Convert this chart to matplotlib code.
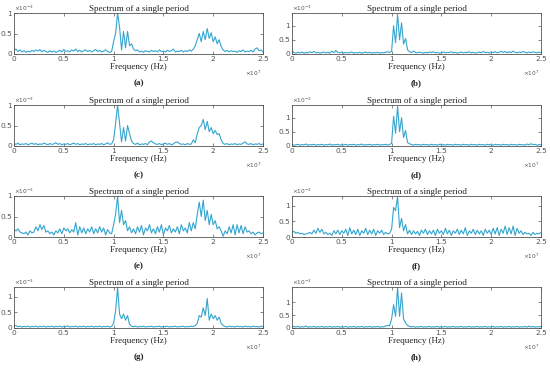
import numpy as np
import matplotlib
matplotlib.use("Agg")
import matplotlib.pyplot as plt

# frequency grid in units of 1e7 Hz, amplitudes in units of 1e-3
freq = np.round(np.arange(126) * 0.02, 2)

amp_a = [0.08,0.12,0.06,0.10,0.05,0.08,0.04,0.07,0.05,0.09, 0.06,0.10,0.07,0.11,0.05,0.09,0.06,0.04,0.08,0.05,
         0.07,0.04,0.06,0.09,0.05,0.11,0.06,0.08,0.05,0.10, 0.07,0.12,0.06,0.09,0.05,0.08,0.10,0.06,0.09,0.05,
         0.08,0.11,0.06,0.09,0.05,0.07,0.10,0.06,0.04,0.06,
         0.30,0.50,1.00,0.65,0.10,0.55,0.15,0.55,0.20,0.25,0.12,
         0.08,0.10,0.05,0.07,0.04,0.08,0.06,0.05,0.09,0.06, 0.08,0.05,0.10,0.06,0.07,0.05,0.09,0.06,0.08,0.12,
         0.05,0.07,0.06,0.09,0.05,0.08,0.06,0.10,0.07,
         0.12,0.20,0.35,0.50,0.30,0.55,0.35,0.62,0.38,0.52,0.30,0.42,0.25,0.35,0.18,0.10,
         0.06,0.09,0.05,0.08,0.06,0.07,0.04,0.08,0.06,0.10,0.05,0.07,0.06,0.09,0.05,0.12,0.15,0.08,0.10,0.05]

amp_b = [0.12,0.05,0.03,0.06,0.04,0.07,0.03,0.05,0.04,0.08, 0.05,0.09,0.04,0.06,0.03,0.05,0.07,0.04,0.06,0.03,
         0.10,0.05,0.12,0.06,0.04,0.07,0.03,0.06,0.04,0.05, 0.07,0.03,0.05,0.04,0.06,0.03,0.05,0.07,0.04,0.06,
         0.03,0.05,0.04,0.06,0.03,0.05,0.04,0.06,0.08,0.05,
         0.10,1.00,0.40,1.40,0.50,1.10,0.35,0.55,0.15,
         0.08,0.05,0.10,0.06,0.04,0.07,0.05,0.03,0.06,0.04, 0.07,0.05,0.08,0.04,0.06,0.03,0.05,0.07,0.04,0.06,
         0.05,0.08,0.04,0.06,0.03,0.05,0.07,0.04,0.06,0.05, 0.08,0.04,0.06,0.03,0.05,0.07,0.04,0.09,0.05,0.06,
         0.04,0.07,0.05,0.08,0.04,0.06,0.10,0.05,0.09,0.04, 0.08,0.05,0.10,0.06,0.04,0.07,0.05,0.09,0.06,0.04,
         0.07,0.05,0.08,0.06,0.04,0.07,0.05]

amp_c = [0.06,0.04,0.07,0.03,0.05,0.04,0.06,0.03,0.05,0.07, 0.04,0.06,0.03,0.05,0.04,0.07,0.05,0.03,0.06,0.04,
         0.05,0.08,0.04,0.06,0.03,0.05,0.04,0.06,0.03,0.05, 0.07,0.04,0.06,0.03,0.05,0.04,0.06,0.03,0.05,0.04,
         0.06,0.03,0.05,0.04,0.06,0.03,0.05,0.08,0.04,0.05,
         0.15,0.55,1.00,0.55,0.10,0.45,0.12,0.50,0.30,0.12,
         0.06,0.04,0.07,0.03,0.05,0.04,0.06,0.03,0.10,0.12, 0.08,0.05,0.04,0.06,0.03,0.05,0.07,0.04,0.06,0.03,
         0.05,0.09,0.10,0.06,0.04,0.05,0.03,0.06,0.04,0.05,
         0.15,0.08,0.30,0.45,0.50,0.65,0.40,0.60,0.35,0.45,0.30,0.38,0.28,0.30,0.15,0.06,
         0.04,0.06,0.03,0.05,0.04,0.06,0.03,0.05,0.04,0.07,0.10,0.05,0.04,0.06,0.03,0.05,0.04,0.06,0.03,0.05]

amp_d = [0.05,0.03,0.04,0.06,0.03,0.05,0.04,0.07,0.03,0.05, 0.04,0.06,0.03,0.05,0.04,0.06,0.03,0.05,0.04,0.07,
         0.03,0.05,0.04,0.06,0.03,0.05,0.04,0.06,0.03,0.05, 0.04,0.06,0.03,0.05,0.04,0.07,0.03,0.05,0.04,0.06,
         0.03,0.05,0.04,0.06,0.03,0.05,0.04,0.06,0.03,0.05,
         0.10,1.05,0.45,1.40,0.50,1.00,0.30,0.55,0.12,0.08,
         0.05,0.03,0.06,0.04,0.05,0.03,0.06,0.04,0.05,0.03, 0.06,0.04,0.05,0.03,0.06,0.04,0.05,0.03,0.06,0.04,
         0.05,0.03,0.06,0.04,0.05,0.03,0.06,0.04,0.05,0.03, 0.06,0.04,0.05,0.03,0.06,0.04,0.05,0.03,0.06,0.04,
         0.05,0.03,0.06,0.04,0.05,0.03,0.06,0.04,0.05,0.03, 0.06,0.04,0.05,0.03,0.06,0.04,0.05,0.03,0.07,0.04,
         0.08,0.05,0.06,0.03,0.05,0.04]

amp_e = [0.18,0.15,0.20,0.12,0.10,0.08,0.12,0.05,0.15,0.10, 0.12,0.25,0.15,0.30,0.18,0.28,0.12,0.15,0.08,0.12,
         0.05,0.15,0.10,0.20,0.08,0.22,0.15,0.20,0.10,0.18, 0.12,0.35,0.05,0.25,0.10,0.22,0.08,0.20,0.12,0.25,
         0.08,0.20,0.10,0.25,0.12,0.22,0.05,0.18,0.10,0.08,
         0.30,0.55,1.00,0.35,0.65,0.30,0.40,0.15,0.25,0.10,
         0.20,0.08,0.25,0.12,0.28,0.05,0.22,0.15,0.30,0.10, 0.20,0.08,0.25,0.12,0.30,0.05,0.22,0.15,0.28,0.10,
         0.20,0.12,0.25,0.08,0.30,0.15,0.22,0.10,0.35,0.15,
         0.35,0.20,0.55,0.85,0.50,0.90,0.40,0.65,0.30,0.55,0.30,0.40,0.20,0.25,0.15,0.02,
         0.15,0.08,0.25,0.10,0.30,0.05,0.30,0.10,0.28,0.08,0.25,0.12,0.15,0.08,0.12,0.05,0.10,0.12,0.08,0.10]

amp_f = [0.15,0.18,0.12,0.15,0.10,0.12,0.08,0.10,0.12,0.15, 0.10,0.22,0.12,0.28,0.15,0.25,0.10,0.15,0.08,0.12,
         0.05,0.20,0.10,0.22,0.08,0.20,0.12,0.25,0.05,0.30, 0.10,0.22,0.08,0.25,0.05,0.20,0.12,0.28,0.08,0.22,
         0.10,0.25,0.05,0.20,0.12,0.22,0.08,0.15,0.10,0.12,
         0.25,0.95,0.85,1.30,0.30,0.60,0.20,0.40,0.10,0.22,
         0.08,0.20,0.10,0.18,0.05,0.22,0.12,0.25,0.08,0.20, 0.10,0.22,0.05,0.25,0.12,0.20,0.08,0.28,0.10,0.22,
         0.05,0.20,0.12,0.25,0.08,0.22,0.10,0.30,0.05,0.20, 0.12,0.25,0.08,0.22,0.10,0.20,0.05,0.25,0.12,0.22,
         0.08,0.28,0.10,0.30,0.05,0.25,0.12,0.35,0.08,0.30, 0.10,0.35,0.05,0.28,0.12,0.20,0.08,0.15,0.10,0.12,
         0.05,0.15,0.08,0.12,0.10,0.15]

amp_g = [0.06,0.08,0.04,0.06,0.03,0.05,0.04,0.06,0.03,0.05, 0.04,0.06,0.03,0.05,0.04,0.06,0.03,0.05,0.04,0.06,
         0.03,0.05,0.04,0.06,0.03,0.05,0.04,0.07,0.03,0.05, 0.04,0.06,0.03,0.05,0.04,0.06,0.03,0.05,0.04,0.06,
         0.03,0.05,0.04,0.06,0.03,0.05,0.04,0.06,0.03,0.05,
         0.15,0.55,1.30,0.45,0.30,0.45,0.25,0.40,0.12,0.06,
         0.04,0.06,0.03,0.05,0.04,0.06,0.03,0.05,0.04,0.06, 0.03,0.05,0.04,0.06,0.03,0.05,0.04,0.06,0.03,0.05,
         0.04,0.06,0.03,0.05,0.04,0.06,0.03,0.05,0.04,0.06, 0.05,0.08,
         0.15,0.40,0.35,0.65,0.40,0.95,0.25,0.45,0.30,0.40,0.25,0.35,0.15,0.08,
         0.05,0.03,0.06,0.04,0.05,0.03,0.06,0.04,0.05,0.03,0.06,0.04,0.05,0.03,0.06,0.04,0.05,0.03,0.06,0.04]

amp_h = [0.08,0.05,0.04,0.06,0.03,0.05,0.04,0.08,0.03,0.05, 0.04,0.06,0.03,0.05,0.04,0.06,0.03,0.05,0.04,0.06,
         0.03,0.05,0.04,0.06,0.03,0.05,0.04,0.06,0.03,0.05, 0.04,0.06,0.03,0.05,0.04,0.06,0.03,0.05,0.04,0.06,
         0.03,0.05,0.04,0.06,0.03,0.05,0.04,0.08,0.10,0.08,
         0.35,0.90,0.45,1.55,0.45,1.35,0.35,0.20,0.10,0.06,
         0.04,0.06,0.03,0.05,0.04,0.06,0.03,0.05,0.04,0.06, 0.03,0.05,0.04,0.06,0.03,0.05,0.04,0.06,0.03,0.05,
         0.04,0.06,0.03,0.05,0.04,0.06,0.03,0.05,0.04,0.06, 0.03,0.05,0.04,0.06,0.03,0.05,0.04,0.06,0.03,0.05,
         0.04,0.06,0.03,0.05,0.04,0.06,0.03,0.05,0.04,0.06, 0.03,0.05,0.04,0.06,0.03,0.05,0.04,0.06,0.03,0.07,
         0.04,0.06,0.03,0.05,0.04,0.06]

panels = [amp_a, amp_b, amp_c, amp_d, amp_e, amp_f, amp_g, amp_h]
letters = ['(a)', '(b)', '(c)', '(d)', '(e)', '(f)', '(g)', '(h)']
ytops = [1.0, 1.45, 1.0, 1.45, 1.0, 1.32, 1.32, 1.58]

line_col = '#35a5cf'
grey = '#555555'
serif = 'Liberation Serif'

fig = plt.figure(figsize=(5.5, 3.68), dpi=100)

W, H = 550.0, 368.0
lefts = [14, 292]
tops = [13, 105, 196, 287]
aw, ah = 249, 41

for k, vals in enumerate(panels):
    row, col = k // 2, k % 2
    ax = fig.add_axes([lefts[col] / W, 1 - (tops[row] + ah) / H, aw / W, ah / H])
    ax.plot(freq, vals, color=line_col, lw=0.8)
    ax.set_xlim(0, 2.5)
    ax.set_ylim(0, ytops[k])
    ax.set_xticks([0, 0.5, 1, 1.5, 2, 2.5])
    ax.set_xticklabels(['0', '0.5', '1', '1.5', '2', '2.5'])
    ax.set_yticks([0, 0.5, 1])
    ax.set_yticklabels(['0', '0.5', '1'])
    ax.tick_params(direction='in', length=2, width=0.5, labelsize=5.3, colors=grey,
                   top=True, right=True, pad=1.5)
    for s in ax.spines.values():
        s.set_color(grey)
        s.set_linewidth(0.6)
    ax.set_title('Spectrum of a single period', fontsize=6.5, family=serif, pad=1.5, color='#222222')
    ax.set_xlabel('Frequency (Hz)', fontsize=6.5, family=serif, labelpad=0.5, color='#222222')
    ax.text(0.0, 1.01, r'$\times10^{-3}$', transform=ax.transAxes, fontsize=4.2, color=grey,
            ha='left', va='bottom')
    ax.text(0.995, -0.36, r'$\times10^{7}$', transform=ax.transAxes, fontsize=4.2, color=grey,
            ha='right', va='top')
    ax.text(0.5, -0.62, letters[k], transform=ax.transAxes, fontsize=6.5, family=serif,
            fontweight='bold', ha='center', va='top', color='#222222')

fig.savefig('out.png', dpi=100)
